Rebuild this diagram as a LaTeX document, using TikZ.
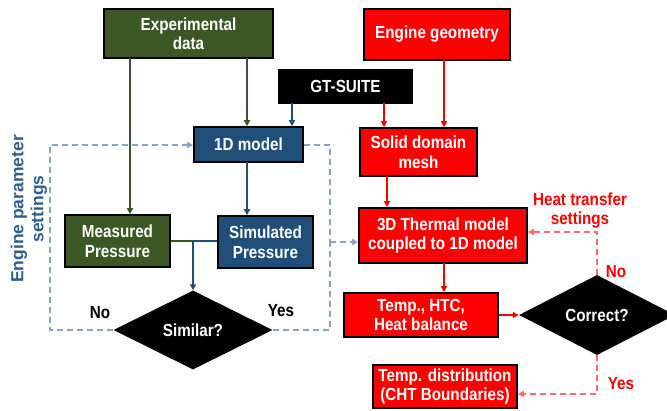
\documentclass[tikz,border=0pt]{standalone}
\usepackage{fontspec}
\setmainfont{Liberation Sans}[FakeStretch=0.87]
\newfontfamily\widefont{Liberation Sans}
\usetikzlibrary{arrows.meta,shapes.geometric}
\definecolor{dgreen}{HTML}{3B5723}
\definecolor{dblue}{HTML}{1F4E79}
\definecolor{lblue}{HTML}{8AA5C4}
\definecolor{tblue}{HTML}{2F5F8F}
\definecolor{lred}{HTML}{FF6B6B}
\tikzset{
  x=1pt, y=-1pt,
  every node/.style={font=\fontsize{17.5}{19.5}\selectfont\bfseries, align=center},
  box/.style={draw=black, line width=1.6pt, text=white, inner sep=0pt},
  gbox/.style={box, fill=dgreen},
  bbox/.style={box, fill=dblue},
  rbox/.style={box, fill=red},
  kbox/.style={box, fill=black},
  choice/.style={diamond, fill=black, text=white, inner sep=0pt, aspect=2},
  tip/.style={-{Triangle[length=6pt,width=6pt]}},
  gline/.style={draw=dgreen, line width=2pt},
  bline/.style={draw=dblue, line width=2pt},
  rline/.style={draw=red, line width=2pt},
  bdash/.style={draw=lblue, line width=2pt, dash pattern=on 6pt off 4pt},
  rdash/.style={draw=lred, line width=2pt, dash pattern=on 6pt off 4pt},
}
\begin{document}
\begin{tikzpicture}
\useasboundingbox[fill=white] (0,0) rectangle (667,410);

% process boxes
\node[gbox, minimum width=169pt, minimum height=49pt] (exp) at (188.5,33.5) {Experimental\\data};
\node[kbox, minimum width=133pt, minimum height=33pt] (gt) at (345.5,86.5) {GT-SUITE};
\node[bbox, minimum width=109pt, minimum height=35pt] (oned) at (248.5,144.5) {1D model};
\node[rbox, minimum width=146pt, minimum height=51pt] (geo) at (437,34.5) {Engine geometry};
\node[rbox, minimum width=117pt, minimum height=48pt] (mesh) at (418.5,152) {Solid domain\\mesh};
\node[gbox, minimum width=105pt, minimum height=52pt] (meas) at (117.5,241) {Measured\\Pressure};
\node[bbox, minimum width=95pt, minimum height=52pt] (sim) at (265.5,242) {Simulated\\Pressure};
\node[rbox, minimum width=168pt, minimum height=55pt] (therm) at (443,235.5) {3D Thermal model\\coupled to 1D model};
\node[rbox, minimum width=154pt, minimum height=44pt] (htc) at (421,315) {Temp., HTC,\\Heat balance};
\node[rbox, minimum width=144pt, minimum height=43pt] (dist) at (445,386.5) {Temp. distribution\\(CHT Boundaries)};

% decisions
\node[choice, minimum width=159pt, minimum height=79pt] (simq) at (193,330) {Similar?};
\node[choice, minimum width=156pt, minimum height=80pt] (corq) at (597,315) {Correct?};

% helper points
\coordinate (mj) at (193,241);
\coordinate (lj) at (330,242);

% solid connectors
\draw[gline, tip] (130,58) coordinate (e1) -- (e1 |- meas.north);
\draw[gline, tip] (247,58) coordinate (e2) -- (e2 |- oned.north);
\draw[bline, tip] (292,103) coordinate (g1) -- (g1 |- oned.north);
\draw[rline, tip] (384,103) coordinate (g2) -- (g2 |- mesh.north);
\draw[rline, tip] (444,60) coordinate (g3) -- (g3 |- mesh.north);
\draw[rline, tip] (387,176) coordinate (m1) -- (m1 |- therm.north);
\draw[bline, tip] (247,162) coordinate (o1) -- (o1 |- sim.north);
\draw[gline] (meas.east) -- (mj);
\draw[bline] (sim.west |- mj) -- (mj);
\draw[bline, tip] (mj) -- (simq.north);
\draw[rline, tip] (444,263) coordinate (t1) -- (t1 |- htc.north);
\draw[rline, tip] (htc.east) -- (corq.west);

% dashed feedback loops
\draw[bdash, tip] (simq.west) -- (50,330) -- (50,145) -- (oned.west |- 0,145);
\draw[bdash] (oned.east |- 0,145) -- (330,145) -- (lj);
\draw[bdash] (simq.east) -- (330,330) -- (lj);
\draw[bdash, tip] (lj) -- (therm.west |- lj);
\draw[rdash, tip] (corq.north) -- (597,232) -- (therm.east |- 0,232);
\draw[rdash, tip] (corq.south) -- (597,394) -- (dist.east |- 0,394);

% labels
\node (lno1) at (100,313) {No};
\node (lyes1) at (281,311) {Yes};
\node[text=red] (lno2) at (616,272) {No};
\node[text=red] (lyes2) at (621,384) {Yes};
\node[text=red] (lheat) at (580,210.5) {Heat transfer\\settings};
\node[text=tblue, rotate=90, font=\widefont\fontsize{17.5}{20}\selectfont\bfseries] (leng) at (29,209) {Engine parameter\\settings};
\end{tikzpicture}
\end{document}
